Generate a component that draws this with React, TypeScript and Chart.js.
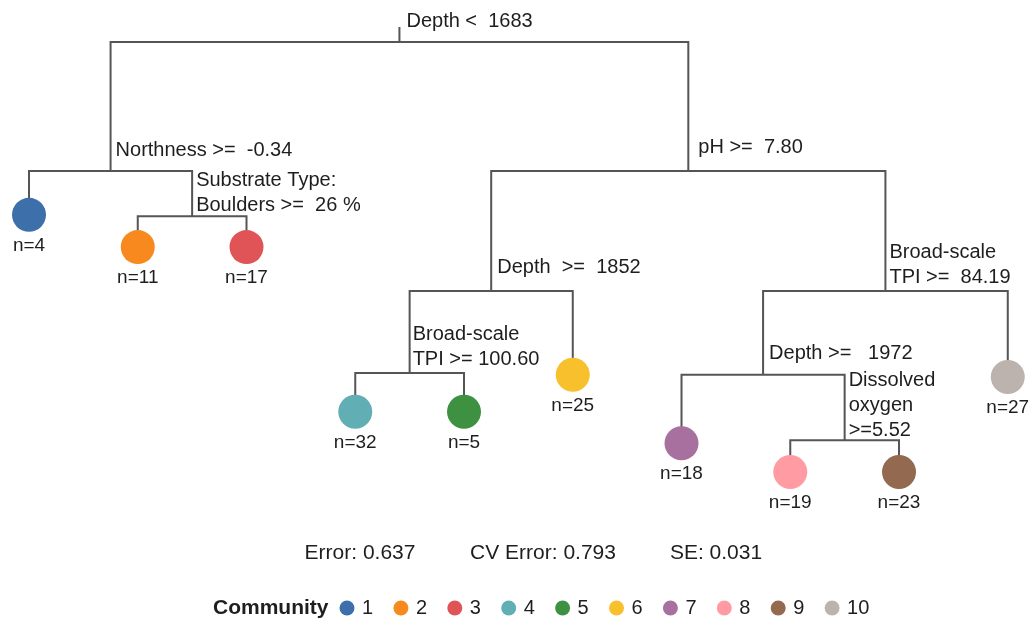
import React, { useEffect, useRef } from "react";
import { Chart, registerables } from "chart.js";

Chart.register(...registerables);

// ---- Data ----
// rpart node ids: children of node k are 2k and 2k+1
const splitNodeIds = [1, 2, 5, 3, 6, 12, 7, 14, 29];
const splitLabels: string[][] = [
  ["Depth <  1683"],
  ["Northness >=  -0.34"],
  ["Substrate Type:", "Boulders >=  26 %"],
  ["pH >=  7.80"],
  ["Depth  >=  1852"],
  ["Broad-scale", "TPI >= 100.60"],
  ["Broad-scale", "TPI >=  84.19"],
  ["Depth >=   1972"],
  ["Dissolved", "oxygen", ">=5.52"],
];
// relative deviance height of each split (root = 1)
const splitHeights = [1.0, 0.7, 0.595, 0.7, 0.421, 0.23, 0.421, 0.226, 0.074];

// leaves, left to right
const leafNodeIds = [4, 10, 11, 24, 25, 13, 28, 58, 59, 15];
const leafCommunity = [1, 2, 3, 4, 5, 6, 7, 8, 9, 10];
const leafN = [4, 11, 17, 32, 5, 25, 18, 19, 23, 27];
const leafHeights = [0.598, 0.523, 0.523, 0.14, 0.14, 0.226, 0.067, 0.0, 0.0, 0.221];

const communities = ["1", "2", "3", "4", "5", "6", "7", "8", "9", "10"];
const communityColors = [
  "#3D6FAB", "#F7891E", "#E05356", "#62AEB5", "#3E9140",
  "#F9C02E", "#A8709F", "#FF9CA3", "#93694F", "#BDB3AE",
];

const statLabels = ["Error: 0.637", "CV Error: 0.793", "SE: 0.031"];
const legendTitle = "Community";

// ---- Style / layout ----
const FONT = '"Liberation Sans", Arial, Helvetica, sans-serif';
const LINE_COLOR = "#555555";
const TEXT_COLOR = "#1e1e1e";
const labelDx = [7, 5, 4, 10, 6, 3, 4, 6, 4];
const labelLift = [21, 21, 11, 24, 23, 14, 13, 21, 10];
const statCenterX = [360, 543, 716];

function buildTree() {
  const pos: Record<number, { x: number; y: number }> = {};
  leafNodeIds.forEach((id, i) => {
    pos[id] = { x: i + 1, y: leafHeights[i] };
  });
  const order = splitNodeIds.map((id, i) => ({ id, i })).sort((a, b) => b.id - a.id);
  order.forEach(({ id, i }) => {
    const l = pos[2 * id];
    const r = pos[2 * id + 1];
    pos[id] = { x: (l.x + r.x) / 2, y: splitHeights[i] };
  });
  return pos;
}

export default function App() {
  const ref = useRef<HTMLCanvasElement | null>(null);

  useEffect(() => {
    if (!ref.current) return;
    const pos = buildTree();

    const edges: { x: number; y: number | null }[] = [];
    splitNodeIds.forEach((id) => {
      const p = pos[id];
      const l = pos[2 * id];
      const r = pos[2 * id + 1];
      edges.push({ x: l.x, y: l.y }, { x: l.x, y: p.y }, { x: r.x, y: p.y }, { x: r.x, y: r.y }, { x: r.x, y: null });
    });
    const root = pos[1];
    edges.push({ x: root.x, y: root.y }, { x: root.x, y: root.y + 0.035 });

    const leaves = leafNodeIds.map((id) => ({ x: pos[id].x, y: pos[id].y }));

    const textPlugin = {
      id: "treeText",
      afterDatasetsDraw(chart: any) {
        const ctx = chart.ctx as CanvasRenderingContext2D;
        const xs = chart.scales.x;
        const ys = chart.scales.y;
        ctx.save();
        ctx.fillStyle = TEXT_COLOR;
        ctx.textBaseline = "middle";
        ctx.font = `20px ${FONT}`;
        ctx.textAlign = "left";
        splitNodeIds.forEach((id, i) => {
          const px = xs.getPixelForValue(pos[id].x) + labelDx[i];
          const py = ys.getPixelForValue(pos[id].y) - labelLift[i];
          const lines = splitLabels[i];
          lines.forEach((t, k) => {
            ctx.fillText(t, px, py - (lines.length - 1 - k) * 25);
          });
        });
        ctx.font = `19px ${FONT}`;
        ctx.textAlign = "center";
        leafNodeIds.forEach((id, i) => {
          const px = xs.getPixelForValue(pos[id].x);
          const py = ys.getPixelForValue(pos[id].y) + 31;
          ctx.fillText(`n=${leafN[i]}`, px, py);
        });
        ctx.font = `21px ${FONT}`;
        statLabels.forEach((t, i) => ctx.fillText(t, statCenterX[i], 553));
        const ly = 608;
        ctx.textAlign = "left";
        ctx.font = `bold 21px ${FONT}`;
        ctx.fillText(legendTitle, 213, ly);
        ctx.font = `20px ${FONT}`;
        communities.forEach((c, i) => {
          const dx = 347 + i * 53.9;
          ctx.beginPath();
          ctx.arc(dx, ly, 7.5, 0, Math.PI * 2);
          ctx.fillStyle = communityColors[i];
          ctx.fill();
          ctx.fillStyle = TEXT_COLOR;
          ctx.fillText(c, dx + 15, ly);
        });
        ctx.restore();
      },
    };

    const chart = new Chart(ref.current, {
      type: "scatter",
      data: {
        datasets: [
          {
            type: "scatter",
            data: leaves,
            order: 0,
            pointRadius: 17,
            pointHoverRadius: 17,
            pointBorderWidth: 0,
            pointBackgroundColor: leafCommunity.map((c) => communityColors[c - 1]),
            pointBorderColor: leafCommunity.map((c) => communityColors[c - 1]),
          } as any,
          {
            type: "line",
            data: edges,
            order: 1,
            showLine: true,
            spanGaps: false,
            borderColor: LINE_COLOR,
            borderWidth: 2,
            pointRadius: 0,
            pointHoverRadius: 0,
            tension: 0,
            borderCapStyle: "butt",
            borderJoinStyle: "miter",
          } as any,
        ],
      },
      options: {
        animation: false,
        responsive: false,
        maintainAspectRatio: false,
        events: [],
        layout: { padding: 0, autoPadding: false },
        plugins: { legend: { display: false }, tooltip: { enabled: false } },
        scales: {
          x: { type: "linear", display: false, min: 0.7333, max: 10.232 },
          y: { type: "linear", display: false, min: -0.3512, max: 1.0977 },
        },
      },
      plugins: [textPlugin],
    });
    return () => chart.destroy();
  }, []);

  return (
    <div style={{ position: "absolute", left: 0, top: 0, width: 1033, height: 623, background: "#fff" }}>
      <canvas ref={ref} width={1033} height={623} style={{ width: 1033, height: 623 }} />
    </div>
  );
}
